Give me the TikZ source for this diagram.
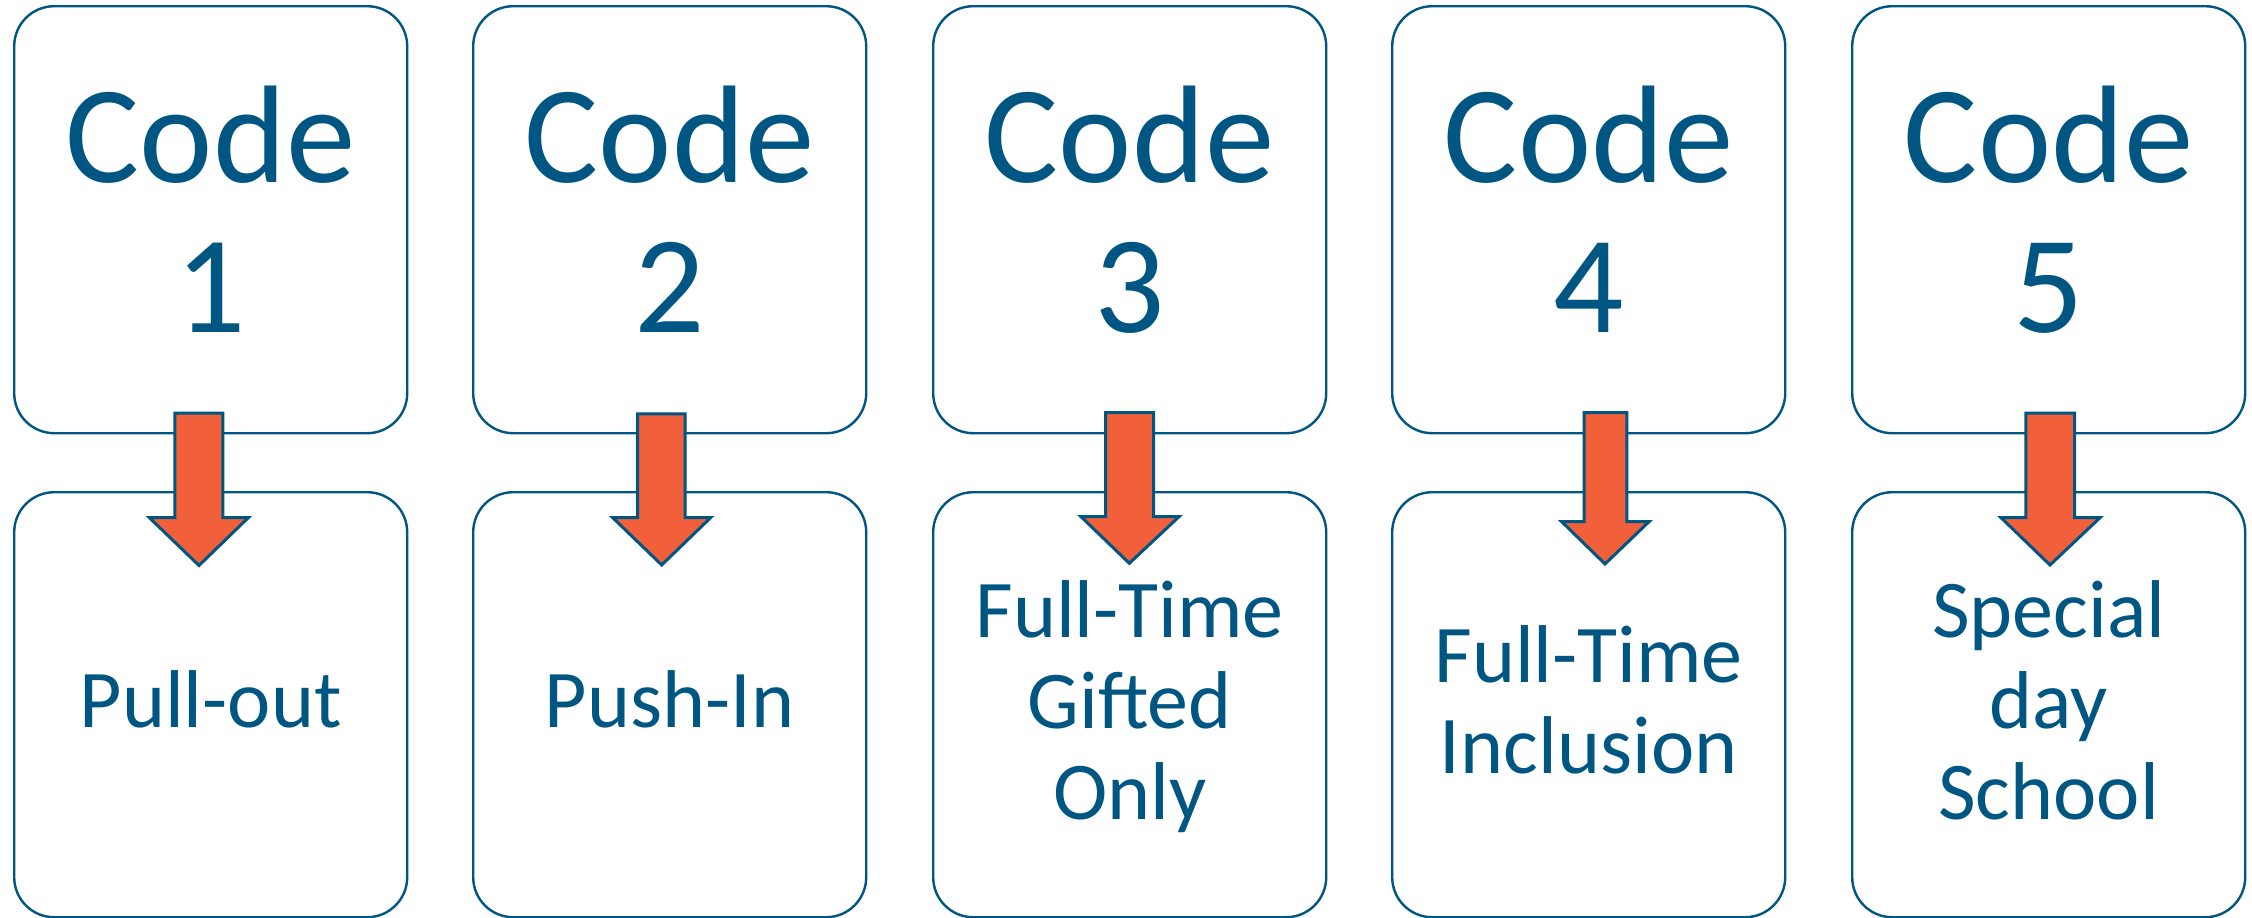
\documentclass[tikz,border=0pt]{standalone}
\usepackage{fontspec}
\setmainfont{Carlito}
\definecolor{cblue}{RGB}{0,86,130}
\definecolor{corange}{RGB}{241,96,58}
\tikzset{
  box/.style={draw=cblue, line width=2.4pt, rounded corners=40pt, fill=white,
    minimum width=393pt, inner sep=0pt, anchor=north west},
  topbox/.style={box, minimum height=427pt},
  botbox/.style={box, minimum height=425pt},
  bigtxt/.style={text=cblue, anchor=base, inner sep=0pt,
    font=\fontsize{139}{149.5}\selectfont},
  smalltxt/.style={text=cblue, anchor=base, inner sep=0pt,
    font=\fontsize{82}{91}\selectfont},
  blockarrow/.style={draw=cblue, line width=3pt, fill=corange, line join=miter}
}
\newcommand{\lines}[1]{\begin{tabular}[t]{@{}c@{}}#1\end{tabular}}
\begin{document}
\begin{tikzpicture}[x=1pt,y=-1pt]
\useasboundingbox (0,0) rectangle (2252,918);
% boxes
\foreach \i/\x in {1/13,2/472,3/932,4/1391,5/1851}{
  \node[topbox] (t\i) at (\x,5) {};
  \node[botbox] (b\i) at (\x,491) {};
}
% top texts
\foreach \i/\n in {1/1,2/2,3/3,4/4,5/5}{
  \node[bigtxt] (tt\i) at ([yshift=-177.5pt]t\i.north) {\lines{\strut Code\\ \n}};
}
% bottom texts
\node[smalltxt] (bt1) at ([yshift=-236pt]b1.north) {\lines{Pull-out}};
\node[smalltxt] (bt2) at ([yshift=-236pt]b2.north) {\lines{Push-In}};
\node[smalltxt] (bt3) at ([yshift=-146pt]b3.north) {\lines{Full-Time\\Gifted\\Only}};
\node[smalltxt] (bt4) at ([yshift=-191pt]b4.north) {\lines{Full-Time\\Inclusion}};
\node[smalltxt] (bt5) at ([yshift=-146pt]b5.north) {\lines{Special\\day\\School}};
% block arrows from top boxes to bottom boxes
\draw[blockarrow] (174.8,413.2) -- (222.8,413.2) -- (222.8,517.5) -- (248.5,517.5) -- (199,565.5) -- (149.2,517.5) -- (174.8,517.5) -- cycle;
\draw[blockarrow] (637.5,413.8) -- (685.2,413.8) -- (685.2,517.5) -- (710.8,517.5) -- (661.7,565) -- (612.5,517.5) -- (637.5,517.5) -- cycle;
\draw[blockarrow] (1105.5,412.5) -- (1153.5,412.5) -- (1153.5,516.5) -- (1179.2,516.5) -- (1129.3,563.3) -- (1080.8,516.5) -- (1105.5,516.5) -- cycle;
\draw[blockarrow] (1584.2,412.5) -- (1626.8,412.5) -- (1626.8,521.5) -- (1649.2,521.5) -- (1605,564) -- (1561.5,521.5) -- (1584.2,521.5) -- cycle;
\draw[blockarrow] (2025.8,413.2) -- (2074.5,413.2) -- (2074.5,517.5) -- (2100.2,517.5) -- (2050,565) -- (2000.8,517.5) -- (2025.8,517.5) -- cycle;
\end{tikzpicture}
\end{document}
